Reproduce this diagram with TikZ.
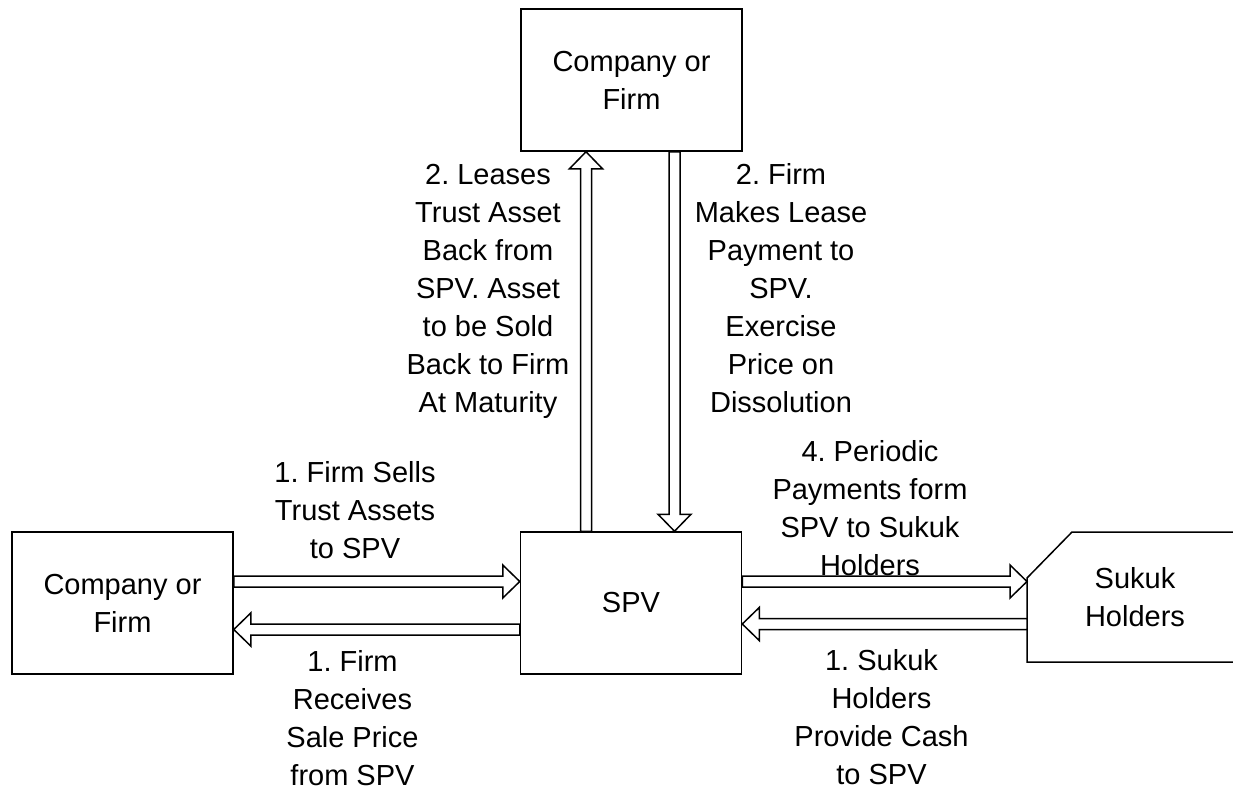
\documentclass[tikz,border=0pt]{standalone}
\usepackage{fontspec}
\setmainfont{Liberation Sans}
\usetikzlibrary{calc,positioning}

% hollow block arrow from #1 to #2 (named coordinates)
\newcommand{\hollowarr}[2]{%
  \coordinate (hb) at ($(#2)!17pt!(#1)$);
  \draw[hollow] ($(#1)!5.5pt!90:(#2)$) -- ($(hb)!5.5pt!-90:(#1)$)
    -- ($(hb)!16.5pt!-90:(#1)$) -- (#2) -- ($(hb)!16.5pt!90:(#1)$)
    -- ($(hb)!5.5pt!90:(#1)$) -- ($(#1)!5.5pt!-90:(#2)$) -- cycle;}

\begin{document}
\frenchspacing
\begin{tikzpicture}[x=1pt, y=-1pt,
  box/.style={rectangle, draw, line width=1.5pt, minimum width=221pt,
    minimum height=142pt, align=center, font=\fontsize{29}{38}\selectfont},
  holder/.style={rectangle, inner sep=0pt, outer sep=0pt, minimum width=216pt,
    minimum height=130pt, align=center, font=\fontsize{29}{38}\selectfont},
  outline/.style={line width=1.5pt, line join=miter},
  hollow/.style={line width=1.5pt, line join=miter, fill=white},
  lbl/.style={align=center, inner sep=0pt, font=\fontsize{29}{38}\selectfont},
]
\useasboundingbox (0,0) rectangle (1233,790);

\node[box] (topfirm) at (631.5,80) {Company or\\Firm};
\node[box] (firm)    at (122.5,603) {Company or\\Firm};
\node[box] (spv)     at (631,603) {SPV};
\node[holder] (sukuk) at (1135,597) {Sukuk\\Holders};
\draw[outline] (sukuk.north east) -- ($(sukuk.north west)+(45,0)$)
  -- ($(sukuk.north west)+(0,46)$) -- (sukuk.south west) -- (sukuk.south east);

% arrow ends
\coordinate (upS) at ($(spv.north)+(-45,0)$);
\coordinate (upT) at (upS |- topfirm.south);
\coordinate (dnS) at ($(topfirm.south)+(43,0)$);
\coordinate (dnT) at (dnS |- spv.north);
\coordinate (sellS) at ($(firm.east)+(0,-21.5)$);
\coordinate (sellT) at (sellS -| spv.west);
\coordinate (priceS) at ($(spv.west)+(0,26.5)$);
\coordinate (priceT) at (priceS -| firm.east);
\coordinate (perS) at ($(spv.east)+(0,-21.5)$);
\coordinate (perT) at (perS -| sukuk.west);
\coordinate (cashS) at ($(sukuk.west |- spv.east)+(0,21)$);
\coordinate (cashT) at (cashS -| spv.east);

\hollowarr{upS}{upT}
\hollowarr{dnS}{dnT}
\hollowarr{sellS}{sellT}
\hollowarr{priceS}{priceT}
\hollowarr{perS}{perT}
\hollowarr{cashS}{cashT}

\node[lbl] (leaseL) at (488,291) {2. Leases\\Trust Asset\\Back from\\SPV. Asset\\to be Sold\\Back to Firm\\At Maturity};
\node[lbl] (leaseR) at (781,288) {2. Firm\\Makes Lease\\Payment to\\SPV.\\Exercise\\Price on\\Dissolution};
\node[lbl] (sells)  at (355,510) {1. Firm Sells\\Trust Assets\\to SPV};
\node[lbl] (period) at (870,508) {4. Periodic\\Payments form\\SPV to Sukuk\\Holders};
\node[lbl] (recv)   at (352.5,718) {1. Firm\\Receives\\Sale Price\\from SPV};
\node[lbl] (cash)   at (881.5,717) {1. Sukuk\\Holders\\Provide Cash\\to SPV};
\end{tikzpicture}
\end{document}
